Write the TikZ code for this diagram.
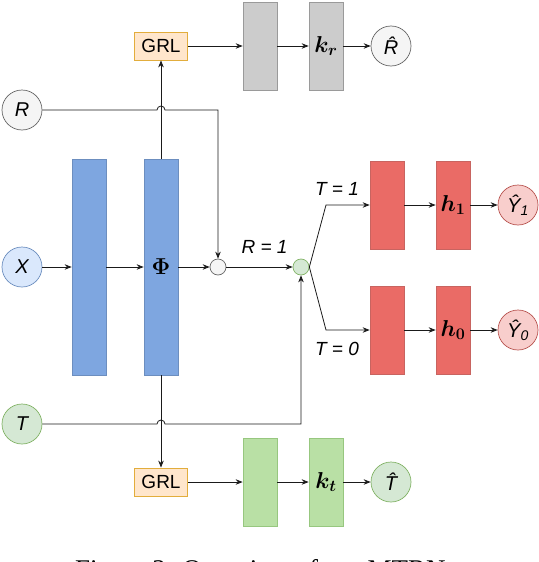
\RequirePackage{fix-cm}
\documentclass[tikz,border=0pt]{standalone}
\usepackage{amsmath,amssymb}
\usepackage[no-math]{fontspec}
\setmainfont{Liberation Sans}
\newfontfamily\capfont{Liberation Serif}
\usepackage{tikz}
\usetikzlibrary{arrows.meta, positioning}
\definecolor{encfill}{HTML}{7EA6E0}
\definecolor{encdraw}{HTML}{6C8EBF}
\definecolor{outfill}{HTML}{EA6B66}
\definecolor{outdraw}{HTML}{C86460}
\definecolor{advfill}{HTML}{CCCCCC}
\definecolor{advdraw}{HTML}{9A9A9A}
\definecolor{trtfill}{HTML}{B9E0A5}
\definecolor{trtdraw}{HTML}{97C77F}
\definecolor{grlfill}{HTML}{FFE6CC}
\definecolor{grldraw}{HTML}{E2AD3C}
\definecolor{xfill}{HTML}{DAE8FC}
\definecolor{gfill}{HTML}{F5F5F5}
\definecolor{gdraw}{HTML}{666666}
\definecolor{tfill}{HTML}{D5E8D4}
\definecolor{tdraw}{HTML}{82B366}
\definecolor{yfill}{HTML}{F8CECC}
\definecolor{ydraw}{HTML}{B85450}
\definecolor{wire}{HTML}{1A1A1A}
\tikzset{
>={Stealth[length=7pt,width=5.5pt]},
  layer/.style={
    rectangle,
    line width=0.7pt,
    minimum width=34pt,
    minimum height=88pt,
    inner sep=0pt,
    font=\fontsize{23}{26}\selectfont},
  enclayer/.style={layer, fill=encfill, draw=encdraw, minimum height=216pt},
  outlayer/.style={layer, fill=outfill, draw=outdraw},
  advlayer/.style={layer, fill=advfill, draw=advdraw},
  trtlayer/.style={layer, fill=trtfill, draw=trtdraw},
  grlbox/.style={
    rectangle,
    fill=grlfill, draw=grldraw, line width=0.8pt,
    minimum width=53pt,
    minimum height=28pt,
    inner sep=0pt,
    font=\fontsize{19}{22}\selectfont},
  var/.style={
    circle,
    line width=0.7pt,
    minimum size=40pt,
    inner sep=0pt,
    font=\fontsize{20}{22}\selectfont\itshape},
  dot/.style={circle, line width=0.7pt, minimum size=16pt, inner sep=0pt},
  line/.style={draw=wire, line width=0.8pt, ->},
  cond/.style={font=\fontsize{19}{22}\selectfont\itshape},
}
\begin{document}
\begin{tikzpicture}[x=1pt, y=-1pt]
    \useasboundingbox (0,0) rectangle (538,562);
    % inputs
    \node[var, fill=gfill, draw=gdraw] (R) at (22,110) {R};
    \node[var, fill=xfill, draw=encdraw] (X) at (22,267) {X};
    \node[var, fill=tfill, draw=tdraw] (T) at (22,424) {T};
    % shared representation
    \node[enclayer] (Enc) at (89,267) {};
    \node[enclayer] (Phi) at (161,267) {$\boldsymbol{\Phi}$};
    \node[dot, fill=gfill, draw=gdraw] (Mix) at (218,267) {};
    \node[dot, fill=tfill, draw=tdraw] (Sel) at (301,267) {};
    % adversarial heads
    \node[grlbox] (GrlR) at (161,46) {GRL};
    \node[advlayer] (AdvR) at (260,46) {};
    \node[advlayer] (Kr) at (326,46) {$\boldsymbol{k_r}$};
    \node[var, fill=gfill, draw=gdraw] (Rhat) at (391,46) {\^{R}};
    \node[grlbox] (GrlT) at (161,482) {GRL};
    \node[trtlayer] (AdvT) at (260,482) {};
    \node[trtlayer] (Kt) at (326,482) {$\boldsymbol{k_t}$};
    \node[var, fill=tfill, draw=tdraw] (That) at (391,482) {\^{T}};
    % outcome heads
    \coordinate (Up) at (326,205);
    \coordinate (Down) at (326,330);
    \node[outlayer] (OutA) at (387,205) {};
    \node[outlayer] (H1) at (453,205) {$\boldsymbol{h_1}$};
    \node[var, fill=yfill, draw=ydraw] (Y1) at (518,205) {\^{Y}\textsubscript{1}};
    \node[outlayer] (OutB) at (387,330) {};
    \node[outlayer] (H0) at (453,330) {$\boldsymbol{h_0}$};
    \node[var, fill=yfill, draw=ydraw] (Y0) at (518,330) {\^{Y}\textsubscript{0}};

    \path[line] (X) -- (Enc);
    \path[line] (Enc) -- (Phi);
    \path[line] (Phi) -- (Mix);
    \path[line] (Mix) -- node[cond, above=10pt, xshift=5pt] {R = 1} (Sel);
    \path[line] (Phi) -- (GrlR);
    \path[line] (Phi) -- (GrlT);
    \path[line] (R) -- (157,110) arc (180:360:4) -- (Mix |- R) -- (Mix);
    \path[line] (T) -- (157,424) arc (180:360:4) -- (Sel |- T) -- (Sel);
    \path[line] (Sel.east) -- (Up) node[cond, above=6pt, xshift=11pt] {T = 1} -- (OutA);
    \path[line] (Sel.east) -- (Down) node[cond, below=8pt, xshift=11pt] {T = 0} -- (OutB);
    \path[line] (OutA) -- (H1);
    \path[line] (H1) -- (Y1);
    \path[line] (OutB) -- (H0);
    \path[line] (H0) -- (Y0);
    \path[line] (GrlR) -- (AdvR);
    \path[line] (AdvR) -- (Kr);
    \path[line] (Kr) -- (Rhat);
    \path[line] (GrlT) -- (AdvT);
    \path[line] (AdvT) -- (Kt);
    \path[line] (Kt) -- (That);
    % caption, cut by the page edge
    \node[anchor=base west, inner sep=0pt, font=\capfont\fontsize{27}{30}\selectfont] (Cap) at (75,578) {Figure 2: Overview of our MTRN};
\end{tikzpicture}
\end{document}
